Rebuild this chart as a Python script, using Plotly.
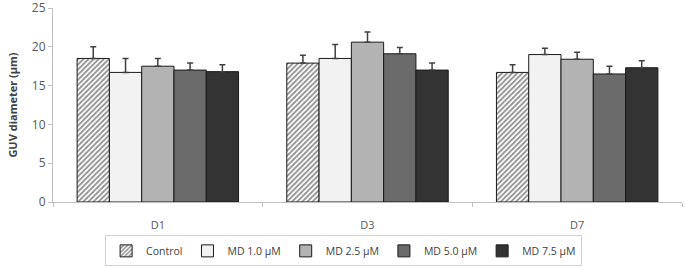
import plotly.graph_objects as go

categories = ["D1", "D3", "D7"]
series_names = ["Control", "MD 1.0 µM", "MD 2.5 µM", "MD 5.0 µM", "MD 7.5 µM"]
values = [
    [18.5, 17.9, 16.7],
    [16.7, 18.5, 19.0],
    [17.5, 20.6, 18.4],
    [17.0, 19.1, 16.5],
    [16.8, 17.0, 17.3],
]
errors = [
    [1.5, 1.0, 1.0],
    [1.8, 1.8, 0.8],
    [1.0, 1.3, 0.9],
    [0.9, 0.8, 1.0],
    [0.9, 0.9, 0.9],
]
colors = ["#ffffff", "#f2f2f2", "#b3b3b3", "#6b6b6b", "#333333"]

fig = go.Figure()
for i, name in enumerate(series_names):
    marker = dict(color=colors[i], line=dict(color="#1a1a1a", width=1))
    if i == 0:
        marker["pattern"] = dict(shape="/", fgcolor="#1f1f1f", bgcolor="#ffffff",
                                 size=3.6, solidity=0.5)
    fig.add_trace(go.Bar(
        x=categories, y=values[i], name=name, marker=marker,
        error_y=dict(type="data", array=errors[i], arrayminus=[0] * len(errors[i]),
                     symmetric=False, color="#404040", thickness=1.5, width=3),
    ))

fig.update_layout(
    width=685, height=267,
    margin=dict(l=53, r=3, t=8, b=65, autoexpand=False),
    paper_bgcolor="white", plot_bgcolor="white",
    barmode="group", bargap=0.23, bargroupgap=0,
    font=dict(family="Open Sans, Liberation Sans, sans-serif", size=11, color="#595959"),
    legend=dict(orientation="h", x=0.462, xanchor="center", y=-0.172, yanchor="top",
                bordercolor="#d0d0d0", borderwidth=1, itemwidth=30,
                font=dict(size=10.5, color="#404040"), traceorder="normal"),
    xaxis=dict(showline=True, linecolor="#bfbfbf", linewidth=1, ticks="outside",
               tickson="boundaries", ticklen=4, tickcolor="#bfbfbf",
               ticklabelstandoff=13,
               tickfont=dict(size=11, color="#595959"), showgrid=False),
    yaxis=dict(range=[0, 25], tickvals=[0, 5, 10, 15, 20, 25], showline=True,
               linecolor="#bfbfbf", linewidth=1, ticklabeloverflow="allow",
               ticks="outside", ticklen=4, tickcolor="#bfbfbf", showgrid=False,
               zeroline=False, tickfont=dict(size=12, color="#595959"),
               title=dict(text="<b>GUV diameter (µm)</b>", font=dict(size=11, color="#404040"),
                          standoff=12)),
)

fig.write_html("out.html", config={"displayModeBar": False},
               post_script="document.body.style.margin='0';document.body.style.padding='0';")
